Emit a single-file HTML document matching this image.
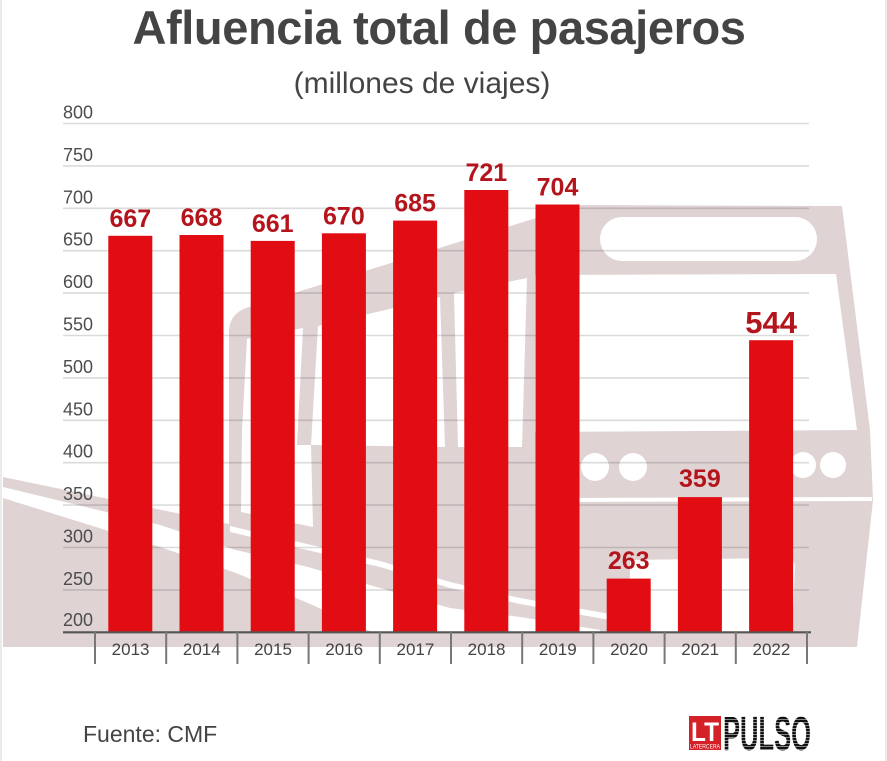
<!DOCTYPE html>
<html>
<head>
<meta charset="utf-8">
<style>
  html,body{margin:0;padding:0;background:#fff;}
  body{width:887px;height:761px;overflow:hidden;}
  svg{display:block;}
  text{font-family:"Liberation Sans",Arial,sans-serif;}
</style>
</head>
<body>
<svg width="887" height="761" viewBox="0 0 887 761" xmlns="http://www.w3.org/2000/svg">
  <defs>
    <pattern id="stripes" width="4" height="3" patternUnits="userSpaceOnUse">
      <rect x="0" y="2" width="4" height="1" fill="#fff"/>
    </pattern>
  </defs>
  <rect x="0" y="0" width="887" height="761" fill="#fff"/>
  <!-- frame edges -->
  <rect x="0" y="0" width="2" height="761" fill="#ebebeb"/>
  <rect x="885" y="0" width="2" height="761" fill="#ebebeb"/>

  <!-- Bus / road silhouette -->
  <g fill="#dfd3d4">
    <path d="M3,477 L229,524 L229,330 Q230,314 246,308 L578,205 L842,206 L870,430 L873,500 L857,647 L3,647 Z"/>
  </g>
  <g fill="#fff">
    <rect x="600" y="217" width="217" height="44" rx="22" ry="22"/>
    <polygon points="535,275 836,274 857,430 535,432"/>
    <polygon points="247,339 303,328 297,445 311,445 313,527 241,512 242,430"/>
    <polygon points="318,326 440,297 445,447 311,445"/>
    <polygon points="454,293 527,278 522,447 458,447"/>
    <circle cx="595" cy="467" r="14"/>
    <circle cx="633" cy="467" r="14"/>
    <circle cx="803" cy="465" r="13"/>
    <circle cx="833" cy="465" r="13"/>
    <polygon points="537,498 872,497 872,501 537,502"/>
    <path d="M630,560 L787,558 Q796,559 795,570 L792,632 L630,632 Z"/>
    <polygon points="3,487 160,525 236,550 308,567 380,588 450,608 520,617 600,630 600,632 372,632 308,603 236,573 160,547 3,498"/>
    <polygon points="230,526 380,561 450,582 520,598 610,614 610,620 520,604 450,588 380,567 230,532"/>
  </g>

  <!-- gridlines -->
  <g stroke="rgba(0,0,0,0.14)" stroke-width="1.6">
    <line x1="63" y1="123.5" x2="809" y2="123.5"/>
    <line x1="63" y1="165.9" x2="809" y2="165.9"/>
    <line x1="63" y1="208.3" x2="809" y2="208.3"/>
    <line x1="63" y1="250.7" x2="809" y2="250.7"/>
    <line x1="63" y1="293.1" x2="809" y2="293.1"/>
    <line x1="63" y1="335.5" x2="809" y2="335.5"/>
    <line x1="63" y1="377.9" x2="809" y2="377.9"/>
    <line x1="63" y1="420.3" x2="809" y2="420.3"/>
    <line x1="63" y1="462.7" x2="809" y2="462.7"/>
    <line x1="63" y1="505.1" x2="809" y2="505.1"/>
    <line x1="63" y1="547.5" x2="809" y2="547.5"/>
    <line x1="63" y1="589.9" x2="809" y2="589.9"/>
  </g>

  <!-- y labels -->
  <g font-size="18" fill="#4d4d4d">
    <text x="63" y="118.5">800</text>
    <text x="63" y="160.9">750</text>
    <text x="63" y="203.3">700</text>
    <text x="63" y="245.7">650</text>
    <text x="63" y="288.1">600</text>
    <text x="63" y="330.5">550</text>
    <text x="63" y="372.9">500</text>
    <text x="63" y="415.3">450</text>
    <text x="63" y="457.7">400</text>
    <text x="63" y="500.1">350</text>
    <text x="63" y="542.5">300</text>
    <text x="63" y="584.9">250</text>
    <text x="63" y="626">200</text>
  </g>

  <!-- bars -->
  <g fill="#e20c13">
    <rect x="108.3" y="235.8" width="44" height="396.2"/>
    <rect x="179.5" y="235.0" width="44" height="397.0"/>
    <rect x="250.7" y="240.9" width="44" height="391.1"/>
    <rect x="321.9" y="233.3" width="44" height="398.7"/>
    <rect x="393.1" y="220.6" width="44" height="411.4"/>
    <rect x="464.3" y="190.0" width="44" height="442.0"/>
    <rect x="535.5" y="204.5" width="44" height="427.5"/>
    <rect x="606.7" y="578.6" width="44" height="53.4"/>
    <rect x="677.9" y="497.1" width="44" height="134.9"/>
    <rect x="749.1" y="340.2" width="44" height="291.8"/>
  </g>

  <!-- value labels -->
  <g font-size="25" font-weight="bold" fill="#b4141c" text-anchor="middle">
    <text x="130.3" y="227">667</text>
    <text x="201.5" y="226">668</text>
    <text x="272.7" y="232">661</text>
    <text x="343.9" y="224.5">670</text>
    <text x="415.1" y="211.5">685</text>
    <text x="486.3" y="181">721</text>
    <text x="557.5" y="195.5">704</text>
    <text x="628.7" y="569">263</text>
    <text x="699.9" y="487">359</text>
    <text x="771.1" y="333" font-size="31">544</text>
  </g>

  <!-- axis -->
  <line x1="63" y1="632.3" x2="811" y2="632.3" stroke="#555" stroke-width="2.2"/>
  <g stroke="#777" stroke-width="2">
    <line x1="95" y1="632" x2="95" y2="664"/>
    <line x1="166.2" y1="632" x2="166.2" y2="664"/>
    <line x1="237.4" y1="632" x2="237.4" y2="664"/>
    <line x1="308.6" y1="632" x2="308.6" y2="664"/>
    <line x1="379.8" y1="632" x2="379.8" y2="664"/>
    <line x1="451" y1="632" x2="451" y2="664"/>
    <line x1="522.2" y1="632" x2="522.2" y2="664"/>
    <line x1="593.4" y1="632" x2="593.4" y2="664"/>
    <line x1="664.6" y1="632" x2="664.6" y2="664"/>
    <line x1="735.8" y1="632" x2="735.8" y2="664"/>
    <line x1="807" y1="632" x2="807" y2="664"/>
  </g>
  <g font-size="17" fill="#444" text-anchor="middle">
    <text x="130.6" y="655">2013</text>
    <text x="201.8" y="655">2014</text>
    <text x="273" y="655">2015</text>
    <text x="344.2" y="655">2016</text>
    <text x="415.4" y="655">2017</text>
    <text x="486.6" y="655">2018</text>
    <text x="557.8" y="655">2019</text>
    <text x="629" y="655">2020</text>
    <text x="700.2" y="655">2021</text>
    <text x="771.4" y="655">2022</text>
  </g>

  <!-- titles -->
  <text x="439" y="44" font-size="47" font-weight="bold" fill="#444" text-anchor="middle" letter-spacing="-0.4">Afluencia total de pasajeros</text>
  <text x="422" y="93" font-size="30" fill="#444" text-anchor="middle">(millones de viajes)</text>

  <!-- source -->
  <text x="83" y="742" font-size="23" fill="#444">Fuente: CMF</text>

  <!-- logo -->
  <rect x="689" y="716" width="32" height="34" fill="#d42027"/>
  <text x="705" y="741" font-size="27" font-weight="bold" fill="#fff" text-anchor="middle" textLength="28" lengthAdjust="spacingAndGlyphs">LT</text>
  <text x="705" y="748.5" font-size="6" fill="#fff" text-anchor="middle" textLength="30" lengthAdjust="spacingAndGlyphs">LATERCERA</text>
  <text x="723" y="750" font-size="48" font-weight="bold" fill="#111" textLength="88" lengthAdjust="spacingAndGlyphs">PULSO</text>
  <rect x="722" y="713" width="92" height="40" fill="url(#stripes)" opacity="0.5"/>
</svg>
</body>
</html>
